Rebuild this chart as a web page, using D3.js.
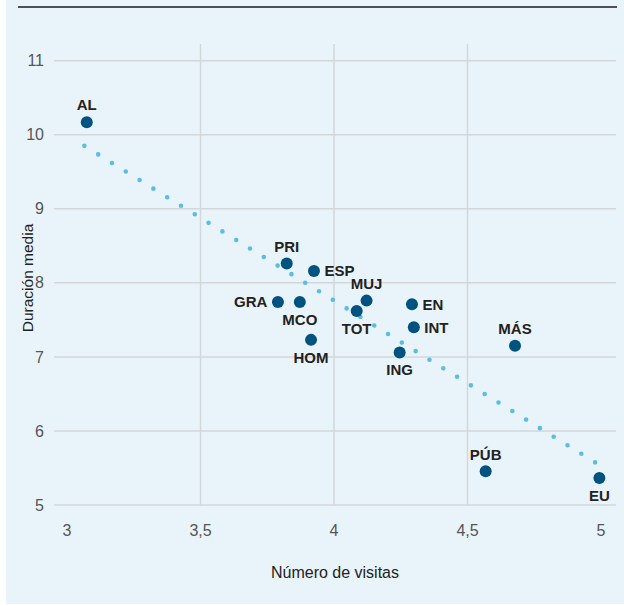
<!DOCTYPE html>
<html>
<head>
<meta charset="utf-8">
<script src="https://cdn.jsdelivr.net/npm/d3@7"></script>
<style>
  html, body { margin: 0; padding: 0; background: #ffffff; }
  svg { display: block; font-family: "Liberation Sans", Arial, Helvetica, sans-serif; }
</style>
</head>
<body>
<svg id="chart" width="624" height="605"></svg>
<script>
// ---- data ----
const labels   = ["AL", "PRI", "ESP", "GRA", "MCO", "HOM", "MUJ", "TOT", "EN", "INT", "ING", "MÁS", "PÚB", "EU"];
const visitas  = [3.074, 3.823, 3.925, 3.790, 3.872, 3.914, 4.122, 4.085, 4.292, 4.299, 4.246, 4.678, 4.568, 4.994];
const duracion = [10.17, 8.26, 8.16, 7.74, 7.74, 7.23, 7.76, 7.62, 7.71, 7.40, 7.06, 7.15, 5.455, 5.365];
const labelPos = ["top", "top", "right", "left", "bottom", "bottom", "top", "bottom", "right", "right", "bottom", "top", "top", "bottom"];
const trendX   = [3.065, 4.994];
const trendY   = [9.85, 5.54];
const xTicks   = [3, 3.5, 4, 4.5, 5];
const xTickLabels = ["3", "3,5", "4", "4,5", "5"];
const yTicks   = [5, 6, 7, 8, 9, 10, 11];
const xTitle   = "Número de visitas";
const yTitle   = "Duración media";

// ---- setup ----
const svg = d3.select("#chart");
const x = d3.scaleLinear().domain([3, 5]).range([67, 601]);
const y = d3.scaleLinear().domain([5, 11]).range([505, 60.7]);
const gridLeft = 54, gridRight = 616, gridTop = 44;

svg.append("rect").attr("x", 6).attr("y", 0).attr("width", 618).attr("height", 604)
  .attr("fill", "#e9f4fa");

svg.append("line").attr("x1", 18).attr("x2", 617).attr("y1", 7).attr("y2", 7)
  .attr("stroke", "#1a1a1a").attr("stroke-width", 1.5);

// horizontal grid + y tick labels
const yAxis = svg.append("g");
yAxis.selectAll("line").data(yTicks).join("line")
  .attr("x1", gridLeft).attr("x2", gridRight)
  .attr("y1", d => y(d)).attr("y2", d => y(d))
  .attr("stroke", "#d3d7da").attr("stroke-width", 1.5);
yAxis.selectAll("text").data(yTicks).join("text")
  .attr("x", 44).attr("y", d => y(d)).attr("dy", "0.35em")
  .attr("text-anchor", "end").attr("font-size", 16).attr("fill", "#555")
  .text(d => d3.format("d")(d));

// vertical grid (interior ticks only) + x tick labels
const xAxis = svg.append("g");
xAxis.selectAll("line").data(xTicks.slice(1, -1)).join("line")
  .attr("x1", d => x(d)).attr("x2", d => x(d))
  .attr("y1", gridTop).attr("y2", y(5))
  .attr("stroke", "#d3d7da").attr("stroke-width", 1.5);
xAxis.selectAll("text").data(xTicks).join("text")
  .attr("x", d => x(d)).attr("y", 530).attr("dy", "0.35em")
  .attr("text-anchor", "middle").attr("font-size", 16).attr("fill", "#555")
  .text((d, i) => xTickLabels[i]);

// axis titles
svg.append("text").attr("x", 335).attr("y", 572).attr("dy", "0.35em")
  .attr("text-anchor", "middle").attr("font-size", 16).attr("fill", "#222")
  .text(xTitle);
svg.append("text").attr("transform", "translate(28,278) rotate(-90)").attr("dy", "0.35em")
  .attr("text-anchor", "middle").attr("font-size", 15.5).attr("fill", "#222")
  .text(yTitle);

// trend line (dotted)
const trend = trendX.map((v, i) => [v, trendY[i]]);
svg.append("path")
  .attr("d", d3.line().x(d => x(d[0])).y(d => y(d[1]))(trend))
  .attr("fill", "none").attr("stroke", "#5bbde2").attr("stroke-width", 4.6)
  .attr("stroke-linecap", "round").attr("stroke-dasharray", "0 16.24");

// points
const pts = labels.map((l, i) => ({ label: l, vx: visitas[i], vy: duracion[i], pos: labelPos[i] }));
svg.append("g").selectAll("circle").data(pts).join("circle")
  .attr("cx", d => x(d.vx)).attr("cy", d => y(d.vy)).attr("r", 6)
  .attr("fill", "#00527f");

// labels
svg.append("g").selectAll("text").data(pts).join("text")
  .attr("font-size", 15).attr("font-weight", "bold").attr("fill", "#222")
  .attr("x", d => d.pos === "right" ? x(d.vx) + 10.5 : d.pos === "left" ? x(d.vx) - 10.5 : x(d.vx))
  .attr("y", d => d.pos === "top" ? y(d.vy) - 17 : d.pos === "bottom" ? y(d.vy) + 17.5 : y(d.vy))
  .attr("dy", "0.35em")
  .attr("text-anchor", d => d.pos === "right" ? "start" : d.pos === "left" ? "end" : "middle")
  .text(d => d.label);
</script>
</body>
</html>
